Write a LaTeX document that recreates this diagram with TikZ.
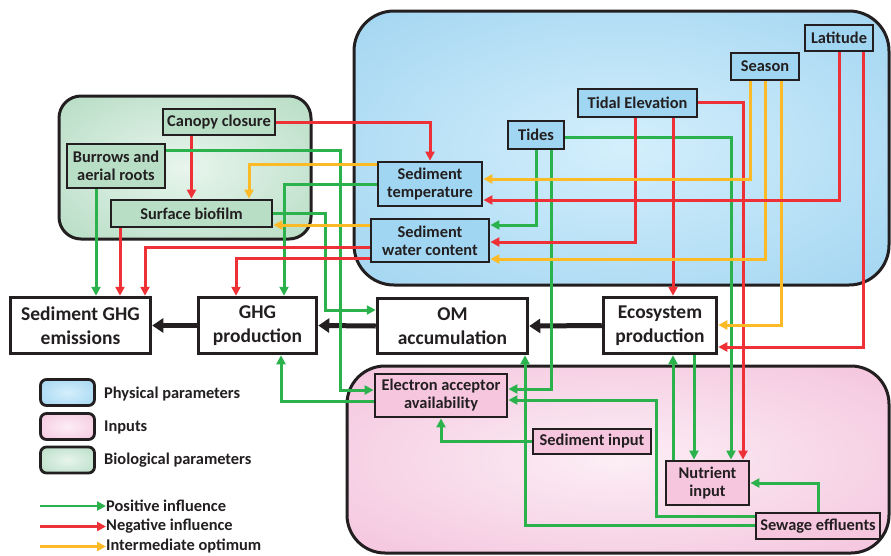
\documentclass[tikz,border=0pt]{standalone}
\usepackage{fontspec}
\setmainfont{Carlito}
\usetikzlibrary{arrows.meta}
\definecolor{lineG}{RGB}{43,178,76}
\definecolor{lineR}{RGB}{237,49,54}
\definecolor{lineY}{RGB}{253,186,39}
\definecolor{dark}{RGB}{35,31,32}
\definecolor{blueC}{RGB}{212,239,252}
\definecolor{blueE}{RGB}{143,203,237}
\definecolor{blueBox}{RGB}{160,214,242}
\definecolor{pinkC}{RGB}{252,238,245}
\definecolor{pinkE}{RGB}{241,180,212}
\definecolor{pinkBox}{RGB}{245,198,222}
\definecolor{greenC}{RGB}{232,245,237}
\definecolor{greenE}{RGB}{163,211,180}
\definecolor{greenBox}{RGB}{184,222,198}
\pgfdeclareradialshading{blueS}{\pgfpointorigin}{color(0bp)=(blueC); color(50bp)=(blueE); color(75bp)=(blueE)}
\pgfdeclareradialshading{pinkS}{\pgfpointorigin}{color(0bp)=(pinkC); color(50bp)=(pinkE); color(75bp)=(pinkE)}
\pgfdeclareradialshading{greenS}{\pgfpointorigin}{color(0bp)=(greenC); color(50bp)=(greenE); color(75bp)=(greenE)}
\newcommand\myBigFont{\fontsize{19.5}{24}\selectfont\bfseries}
\newcommand\mySmallFont{\fontsize{16.4}{18}\selectfont\bfseries}
\begin{document}
\begin{tikzpicture}[x=1pt,y=-1pt,
  conn/.style={line width=3pt,-{Triangle[length=9pt,width=9pt]}},
  posline/.style={conn,draw=lineG},
  negline/.style={conn,draw=lineR},
  optline/.style={conn,draw=lineY},
  flow/.style={draw=dark,line width=5pt,-{Triangle[length=11pt,width=14pt]}},
  mainbox/.style={draw=dark,line width=3.5pt,fill=white,font=\myBigFont,text=dark,align=center,inner sep=0pt},
  subbox/.style={draw=dark,line width=2.8pt,font=\mySmallFont,text=dark,align=center,inner sep=0pt},
  bluebox/.style={subbox,fill=blueBox},
  pinkbox/.style={subbox,fill=pinkBox},
  greenbox/.style={subbox,fill=greenBox},
  region/.style={draw=dark,line width=3pt},
  legbox/.style={draw=dark,line width=2.8pt,rounded corners=6pt,minimum width=54pt,minimum height=26pt,inner sep=0pt},
  legtext/.style={anchor=west,font=\mySmallFont,text=dark,inner sep=0pt}
]
\useasboundingbox (0,0) rectangle (891,555);
\fill[white] (0,0) rectangle (891,555);

% regions
\path[region,shading=blueS,rounded corners=40pt] (354,11) rectangle (889,285);
\path[region,shading=pinkS,rounded corners=38pt] (347,366) rectangle (889,553);
\path[region,shading=greenS,rounded corners=22pt] (59,96) rectangle (311,239);

% main boxes
\node[mainbox,minimum width=140pt,minimum height=56pt] (sedghg) at (80.5,325.5) {Sediment GHG\\emissions};
\node[mainbox,minimum width=118pt,minimum height=56pt] (ghgprod) at (257.5,325.5) {GHG\\production};
\node[mainbox,minimum width=150pt,minimum height=55pt] (om) at (452.5,326) {OM\\accumulation};
\node[mainbox,minimum width=113pt,minimum height=56pt] (eco) at (660,325.5) {Ecosystem\\production};

% physical
\node[bluebox,minimum width=104pt,minimum height=44pt] (sedtemp) at (430,184) {Sediment\\temperature};
\node[bluebox,minimum width=118pt,minimum height=43pt] (sedwc) at (430,240.5) {Sediment\\water content};
\node[bluebox,minimum width=56pt,minimum height=28pt] (tides) at (536,135) {Tides};
\node[bluebox,minimum width=119pt,minimum height=28pt] (tidal) at (637.5,103) {Tidal Elevation};
\node[bluebox,minimum width=68pt,minimum height=27pt] (season) at (765,66.5) {Season};
\node[bluebox,minimum width=68pt,minimum height=26pt] (latitude) at (839,38) {Latitude};

% biological
\node[greenbox,minimum width=112pt,minimum height=26pt] (canopy) at (219,122) {Canopy closure};
\node[greenbox,minimum width=98pt,minimum height=44pt] (burrows) at (116,166) {Burrows and\\aerial roots};
\node[greenbox,minimum width=161pt,minimum height=27pt] (biofilm) at (191.5,213.5) {Surface biofilm};

% inputs
\node[pinkbox,minimum width=132pt,minimum height=43pt] (ea) at (441,395.5) {Electron acceptor\\availability};
\node[pinkbox,minimum width=118pt,minimum height=25pt] (sedin) at (592,441.5) {Sediment input};
\node[pinkbox,minimum width=83pt,minimum height=44pt] (nutr) at (707.5,483) {Nutrient\\input};
\node[pinkbox,minimum width=124pt,minimum height=26pt] (sewage) at (818,526) {Sewage effluents};

% flow arrows
\draw[flow] (eco.west) -- (om.east);
\draw[flow] (om.west) -- (ghgprod.east);
\draw[flow] (ghgprod.west) -- (sedghg.east);

% biological connectors
\draw[negline] (canopy.east) -| (sedtemp.north);
\draw[negline] (canopy.south -| biofilm.north) -- (biofilm.north);
\draw[posline] (burrows.east |- 0,150) -| (340,390) -- (ea.west |- 0,390);
\draw[posline] (biofilm.east) -| (325,310) -- (om.west |- 0,310);
\draw[posline] (burrows.south -| 96,0) -- (sedghg.north -| 96,0);
\draw[negline] (biofilm.south -| 120,0) -- (sedghg.north -| 120,0);

% physical connectors
\draw[optline] (sedtemp.west |- 0,164) -| (biofilm.north -| 249,0);
\draw[posline] (sedtemp.west |- 0,184) -| (ghgprod.north -| 284,0);
\draw[optline] (sedwc.west |- 0,225) -- (biofilm.east |- 0,225);
\draw[negline] (sedwc.west |- 0,247) -| (sedghg.north -| 145,0);
\draw[negline] (sedwc.west |- 0,258) -| (ghgprod.north -| 236,0);
\draw[posline] (tides.south -| 536,0) |- (sedwc.east |- 0,225);
\draw[posline] (tides.south -| 551,0) |- (ea.east |- 0,389);
\draw[posline] (tides.east |- 0,137) -| (nutr.north -| 731,0);
\draw[negline] (tidal.south -| 635,0) |- (sedwc.east |- 0,242);
\draw[negline] (tidal.south -| 673,0) -- (eco.north -| 673,0);
\draw[negline] (tidal.east |- 0,102) -| (nutr.north -| 743,0);
\draw[optline] (season.south -| 750,0) |- (sedtemp.east |- 0,179);
\draw[optline] (season.south -| 765,0) |- (sedwc.east |- 0,259);
\draw[optline] (season.south -| 781,0) |- (eco.east |- 0,325);
\draw[negline] (latitude.south -| 839,0) |- (sedtemp.east |- 0,200);
\draw[negline] (latitude.south -| 863,0) |- (eco.east |- 0,347);

% input connectors
\draw[posline] (ea.west |- 0,401) -| (ghgprod.south -| 281,0);
\draw[posline] (sewage.west |- 0,516) -| (656,400) -- (ea.east |- 0,400);
\draw[posline] (sewage.west |- 0,525) -| (om.south -| 525,0);
\draw[posline] (sedin.west) -| (ea.south);
\draw[posline] (nutr.north -| 673,0) -- (eco.south -| 673,0);
\draw[posline] (eco.south -| 694,0) -- (nutr.north -| 694,0);
\draw[posline] (sewage.north) |- (nutr.east);

% legend
\node[legbox,shading=blueS] (lg1) at (67.5,392.5) {};
\node[legbox,shading=pinkS] (lg2) at (67.5,426.5) {};
\node[legbox,shading=greenS] (lg3) at (67.5,460) {};
\node[legtext] (lt1) at (104,394) {Physical parameters};
\node[legtext] (lt2) at (104,427) {Inputs};
\node[legtext] (lt3) at (104,460) {Biological parameters};
\node[legtext] (lp) at (106,506) {Positive influence};
\node[legtext] (ln) at (106,526.5) {Negative influence};
\node[legtext] (lo) at (106,546.5) {Intermediate optimum};
\coordinate (la1) at (40,506);
\coordinate (la2) at (40,526.5);
\coordinate (la3) at (40,546.5);
\draw[posline,line width=2.5pt] (la1) -- (lp.west);
\draw[negline,line width=2.5pt] (la2) -- (ln.west);
\draw[optline,line width=2.5pt] (la3) -- (lo.west);
\end{tikzpicture}
\end{document}
